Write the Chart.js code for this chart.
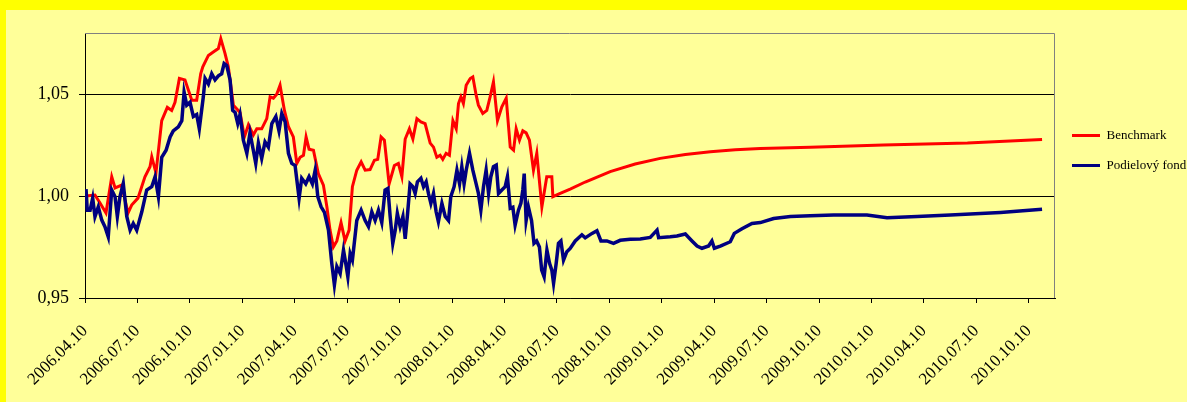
<!DOCTYPE html>
<html>
<head>
<meta charset="utf-8">
<script src="https://cdn.jsdelivr.net/npm/chart.js@4/dist/chart.umd.min.js"></script>
<style>
  html, body { margin: 0; padding: 0; }
  body { width: 1187px; height: 402px; background: #ffff00; position: relative; overflow: hidden; }
  .panel { position: absolute; left: 6px; top: 10px; right: 0; bottom: 0; background: #ffff99; }
  .wrap { position: absolute; left: 0; top: 0; width: 1187px; height: 402px; }
</style>
</head>
<body>
<div class="panel"></div>
<div class="wrap"><canvas id="fund-chart"></canvas></div>
<script>
// month offsets from 2006.04.10, value
const tickLabels = [
  '2006.04.10', '2006.07.10', '2006.10.10', '2007.01.10', '2007.04.10', '2007.07.10', '2007.10.10',
  '2008.01.10', '2008.04.10', '2008.07.10', '2008.10.10', '2009.01.10', '2009.04.10', '2009.07.10',
  '2009.10.10', '2010.01.10', '2010.04.10', '2010.07.10', '2010.10.10',
];
const yTicks = [0.95, 1.00, 1.05];

const benchmark = [
  [0.06, 1.0000], [0.57, 1.0005], [0.86, 0.9966], [1.20, 0.9917], [1.53, 1.0095], [1.72, 1.0040],
  [2.10, 1.0054], [2.46, 0.9917], [2.67, 0.9956], [3.03, 0.9990], [3.43, 1.0095], [3.72, 1.0144],
  [3.82, 1.0193], [4.06, 1.0113], [4.39, 1.0370], [4.71, 1.0435], [4.96, 1.0420], [5.15, 1.0460],
  [5.40, 1.0577], [5.72, 1.0570], [6.11, 1.0470], [6.39, 1.0470], [6.62, 1.0600], [6.74, 1.0634],
  [7.06, 1.0690], [7.34, 1.0707], [7.63, 1.0724], [7.77, 1.0772], [8.01, 1.0700], [8.20, 1.0634],
  [8.49, 1.0446], [8.87, 1.0410], [9.12, 1.0290], [9.35, 1.0350], [9.63, 1.0300], [9.83, 1.0330],
  [10.11, 1.0330], [10.40, 1.0380], [10.59, 1.0487], [10.78, 1.0480], [10.97, 1.0500], [11.16, 1.0544],
  [11.41, 1.0420], [11.64, 1.0340], [11.92, 1.0290], [12.12, 1.0160], [12.31, 1.0190], [12.50, 1.0200],
  [12.65, 1.0290], [12.82, 1.0230], [13.07, 1.0225], [13.35, 1.0110], [13.64, 1.0054], [13.84, 0.9947],
  [14.02, 0.9833], [14.21, 0.9750], [14.41, 0.9780], [14.65, 0.9870], [14.88, 0.9780], [15.11, 0.9833],
  [15.30, 1.0046], [15.55, 1.0127], [15.80, 1.0168], [16.03, 1.0127], [16.31, 1.0130], [16.56, 1.0176],
  [16.75, 1.0180], [16.94, 1.0290], [17.13, 1.0274], [17.40, 1.0060], [17.70, 1.0150], [17.93, 1.0160],
  [18.13, 1.0095], [18.32, 1.0280], [18.56, 1.0330], [18.76, 1.0280], [18.99, 1.0380], [19.22, 1.0364],
  [19.46, 1.0356], [19.75, 1.0260], [19.94, 1.0240], [20.13, 1.0190], [20.32, 1.0200], [20.47, 1.0180],
  [20.66, 1.0210], [20.85, 1.0200], [21.05, 1.0370], [21.24, 1.0330], [21.37, 1.0454], [21.51, 1.0487],
  [21.65, 1.0454], [21.81, 1.0544], [22.04, 1.0577], [22.19, 1.0585], [22.38, 1.0495], [22.51, 1.0446],
  [22.76, 1.0405], [22.99, 1.0420], [23.18, 1.0487], [23.37, 1.0560], [23.60, 1.0370], [23.85, 1.0438],
  [24.10, 1.0480], [24.33, 1.0240], [24.52, 1.0225], [24.67, 1.0330], [24.86, 1.0274], [25.05, 1.0320],
  [25.24, 1.0310], [25.43, 1.0274], [25.66, 1.0127], [25.85, 1.0210], [26.14, 0.9947], [26.42, 1.0095],
  [26.71, 1.0095], [26.77, 0.9997], [27.19, 1.0013], [27.76, 1.0034], [28.62, 1.0069], [30.05, 1.0120],
  [31.48, 1.0157], [32.91, 1.0185], [34.35, 1.0204], [35.78, 1.0217], [37.21, 1.0227], [38.64, 1.0233],
  [41.50, 1.0240], [45.68, 1.0250], [50.49, 1.0260], [54.76, 1.0278],
];

const fund = [
  [0.06, 1.0034], [0.13, 0.9930], [0.29, 0.9930], [0.44, 0.9990], [0.57, 0.9899], [0.76, 0.9947],
  [0.96, 0.9882], [1.14, 0.9850], [1.33, 0.9800], [1.53, 1.0030], [1.72, 0.9997], [1.85, 0.9900],
  [2.00, 0.9997], [2.19, 1.0062], [2.39, 0.9900], [2.58, 0.9833], [2.76, 0.9866], [2.96, 0.9833],
  [3.25, 0.9923], [3.53, 1.0030], [3.82, 1.0046], [4.01, 1.0095], [4.20, 0.9997], [4.39, 1.0190],
  [4.64, 1.0225], [4.87, 1.0290], [5.05, 1.0320], [5.34, 1.0340], [5.54, 1.0370], [5.67, 1.0510],
  [5.82, 1.0446], [6.01, 1.0460], [6.20, 1.0390], [6.39, 1.0400], [6.54, 1.0330], [6.77, 1.0487],
  [6.87, 1.0577], [7.06, 1.0550], [7.25, 1.0600], [7.44, 1.0570], [7.63, 1.0590], [7.82, 1.0600],
  [7.96, 1.0650], [8.11, 1.0640], [8.30, 1.0570], [8.45, 1.0420], [8.59, 1.0410], [8.74, 1.0356],
  [8.87, 1.0400], [9.06, 1.0274], [9.26, 1.0210], [9.44, 1.0310], [9.63, 1.0225], [9.77, 1.0160],
  [9.92, 1.0260], [10.11, 1.0185], [10.30, 1.0266], [10.49, 1.0240], [10.69, 1.0356], [10.92, 1.0390],
  [11.10, 1.0320], [11.26, 1.0405], [11.45, 1.0364], [11.64, 1.0210], [11.83, 1.0160], [12.02, 1.0150],
  [12.25, 0.9989], [12.40, 1.0087], [12.63, 1.0060], [12.82, 1.0095], [13.01, 1.0060], [13.17, 1.0127],
  [13.32, 0.9997], [13.51, 0.9947], [13.70, 0.9920], [13.93, 0.9833], [14.12, 0.9670], [14.27, 0.9564],
  [14.41, 0.9654], [14.60, 0.9620], [14.79, 0.9735], [14.92, 0.9670], [15.04, 0.9604], [15.17, 0.9718],
  [15.30, 0.9686], [15.55, 0.9880], [15.80, 0.9931], [16.03, 0.9880], [16.22, 0.9850], [16.41, 0.9923],
  [16.60, 0.9880], [16.79, 0.9931], [16.98, 0.9870], [17.17, 1.0030], [17.33, 1.0038], [17.46, 0.9900],
  [17.61, 0.9768], [17.75, 0.9833], [17.87, 0.9915], [18.03, 0.9850], [18.19, 0.9900], [18.32, 0.9790],
  [18.45, 0.9907], [18.60, 1.0060], [18.76, 1.0046], [18.89, 1.0013], [19.02, 1.0070], [19.22, 1.0087],
  [19.37, 1.0046], [19.52, 1.0070], [19.65, 1.0013], [19.79, 0.9964], [19.94, 1.0013], [20.09, 0.9923],
  [20.22, 0.9874], [20.42, 0.9964], [20.61, 0.9900], [20.80, 0.9880], [20.93, 0.9997], [21.12, 1.0046],
  [21.28, 1.0127], [21.43, 1.0060], [21.56, 1.0144], [21.69, 1.0060], [21.81, 1.0127], [22.00, 1.0210],
  [22.19, 1.0127], [22.38, 1.0060], [22.51, 1.0013], [22.65, 0.9931], [22.80, 1.0046], [22.95, 1.0127],
  [23.09, 1.0013], [23.22, 1.0095], [23.37, 1.0144], [23.53, 1.0152], [23.66, 1.0013], [23.85, 1.0030],
  [24.04, 1.0046], [24.17, 1.0095], [24.33, 0.9940], [24.48, 0.9945], [24.61, 0.9858], [24.80, 0.9931],
  [24.94, 0.9964], [25.05, 1.0030], [25.13, 1.0110], [25.24, 0.9880], [25.37, 0.9947], [25.55, 0.9880],
  [25.69, 0.9768], [25.84, 0.9780], [26.00, 0.9750], [26.13, 0.9637], [26.27, 0.9604], [26.43, 0.9735],
  [26.58, 0.9670], [26.71, 0.9637], [26.81, 0.9572], [26.96, 0.9670], [27.09, 0.9768], [27.23, 0.9780],
  [27.38, 0.9686], [27.57, 0.9727], [27.76, 0.9743], [28.05, 0.9780], [28.43, 0.9810], [28.62, 0.9795],
  [29.01, 0.9817], [29.29, 0.9830], [29.52, 0.9780], [29.86, 0.9780], [30.24, 0.9768], [30.62, 0.9783],
  [31.20, 0.9788], [31.77, 0.9790], [32.34, 0.9797], [32.73, 0.9833], [32.82, 0.9796], [33.49, 0.9800],
  [33.87, 0.9804], [34.35, 0.9814], [34.73, 0.9780], [35.02, 0.9755], [35.30, 0.9744], [35.68, 0.9755],
  [35.87, 0.9780], [36.01, 0.9744], [36.35, 0.9755], [36.92, 0.9776], [37.15, 0.9817], [37.59, 0.9840],
  [38.16, 0.9866], [38.64, 0.9870], [39.40, 0.9890], [40.36, 0.9900], [41.50, 0.9903], [42.83, 0.9907],
  [44.74, 0.9907], [45.89, 0.9894], [47.61, 0.9900], [49.51, 0.9907], [52.38, 0.9920], [54.76, 0.9935],
];

const SERIF = "'Liberation Serif', 'Times New Roman', serif";
Chart.defaults.font.family = SERIF;
Chart.defaults.color = '#000000';

const toPoints = rows => rows.map(([m, v]) => ({ x: m, y: v }));

// gray plot-area frame on the top and right sides
const plotFrame = {
  id: 'plotFrame',
  beforeDatasetsDraw(chart) {
    const { ctx, chartArea: a } = chart;
    ctx.save();
    ctx.strokeStyle = '#808080';
    ctx.lineWidth = 1;
    ctx.beginPath();
    ctx.moveTo(a.left, a.top + 0.5);
    ctx.lineTo(a.right - 0.5, a.top + 0.5);
    ctx.lineTo(a.right - 0.5, a.bottom);
    ctx.stroke();
    ctx.restore();
  },
};

new Chart(document.getElementById('fund-chart'), {
  type: 'line',
  data: {
    datasets: [
      {
        label: 'Benchmark',
        data: toPoints(benchmark),
        borderColor: '#ff0000',
        backgroundColor: '#ff0000',
        borderWidth: 3,
        tension: 0,
        pointRadius: 0,
        order: 1,
      },
      {
        label: 'Podielový fond',
        data: toPoints(fund),
        borderColor: '#000080',
        backgroundColor: '#000080',
        borderWidth: 3.5,
        tension: 0,
        pointRadius: 0,
        order: 0,
      },
    ],
  },
  options: {
    responsive: true,
    maintainAspectRatio: false,
    animation: false,
    layout: { padding: { top: 33, left: 0, right: 0, bottom: 0 } },
    plugins: {
      tooltip: { enabled: false },
      legend: {
        position: 'right',
        align: 'center',
        fullSize: false,
        maxWidth: 132,
        labels: {
          color: '#000000',
          font: { size: 13, family: SERIF },
          boxWidth: 28,
          boxHeight: 3,
          padding: 17,
          generateLabels: chart => {
            const items = Chart.defaults.plugins.legend.labels.generateLabels(chart)
              .sort((a, b) => a.datasetIndex - b.datasetIndex)
              .map(it => ({ ...it, lineWidth: 0, fillStyle: it.strokeStyle }));
            // empty slot below the two entries, lifts them like the original
            items.push({ text: '', fillStyle: 'rgba(0,0,0,0)', strokeStyle: 'rgba(0,0,0,0)', lineWidth: 0, hidden: false, datasetIndex: -1 });
            return items;
          },
        },
      },
    },
    scales: {
      x: {
        type: 'linear',
        min: 0,
        max: 55.5,
        afterBuildTicks: scale => { scale.ticks = tickLabels.map((_, i) => ({ value: i * 3 })); },
        afterFit: scale => { scale.height = 104; },
        grid: { drawOnChartArea: false, drawTicks: true, tickLength: 5, tickColor: '#000000' },
        border: { color: '#000000', width: 1 },
        ticks: {
          autoSkip: false,
          minRotation: 45,
          maxRotation: 45,
          padding: 18,
          color: '#000000',
          font: { size: 17, family: SERIF },
          callback: (v, i) => tickLabels[i],
        },
      },
      y: {
        min: 0.95,
        max: 1.08,
        afterBuildTicks: scale => { scale.ticks = yTicks.map(v => ({ value: v })); },
        afterFit: scale => { scale.width = 85; },
        grid: { color: '#000000', lineWidth: 1, drawTicks: true, tickLength: 6, tickColor: '#000000' },
        border: { color: '#000000', width: 1 },
        ticks: {
          padding: 10,
          color: '#000000',
          font: { size: 18, family: SERIF },
          callback: v => v.toFixed(2).replace('.', ','),
        },
      },
    },
  },
  plugins: [plotFrame],
});
</script>
</body>
</html>
